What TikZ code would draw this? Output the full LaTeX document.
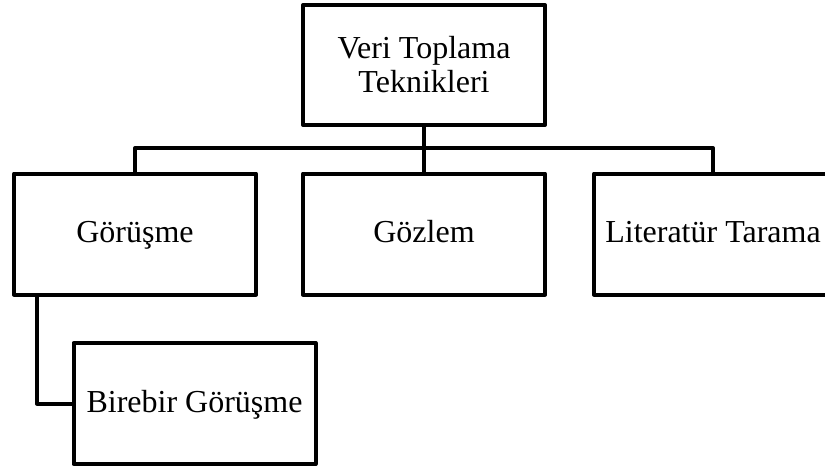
\documentclass[tikz,border=0pt]{standalone}
\usepackage{fontspec}
\setmainfont{Liberation Serif}
\usepackage{tikz}

\begin{document}
\begin{tikzpicture}[x=1pt, y=-1pt, line width=4pt, line join=round,
	every node/.style={font=\fontsize{32}{34}\selectfont},
	kutu/.style={draw, rectangle, minimum width=242pt, minimum height=121pt, align=center, inner sep=2pt},
	tek/.style={text height=23pt, text depth=6pt}]
	\clip (0,0) rectangle (825,469);
	\node[kutu, minimum height=120pt] (teknik) at (424,65) {Veri Toplama\\Teknikleri};
	\node[kutu, tek] (gorusme) at (135,234) {Görüşme};
	\node[kutu, tek] (gozlem) at (424,234) {Gözlem};
	\node[kutu, tek, minimum width=238pt] (literatur) at (713,234) {Literatür Tarama};
	\node[kutu, tek] (birebir) at (194.5,403.5) {Birebir Görüşme};
	\coordinate (bar) at (424,148);
	\draw (teknik.south) -- (gozlem.north);
	\draw (gorusme.north) |- (bar) -| (literatur.north);
	\draw ([xshift=25pt]gorusme.south west) |- (birebir.west);
\end{tikzpicture}
\end{document}
